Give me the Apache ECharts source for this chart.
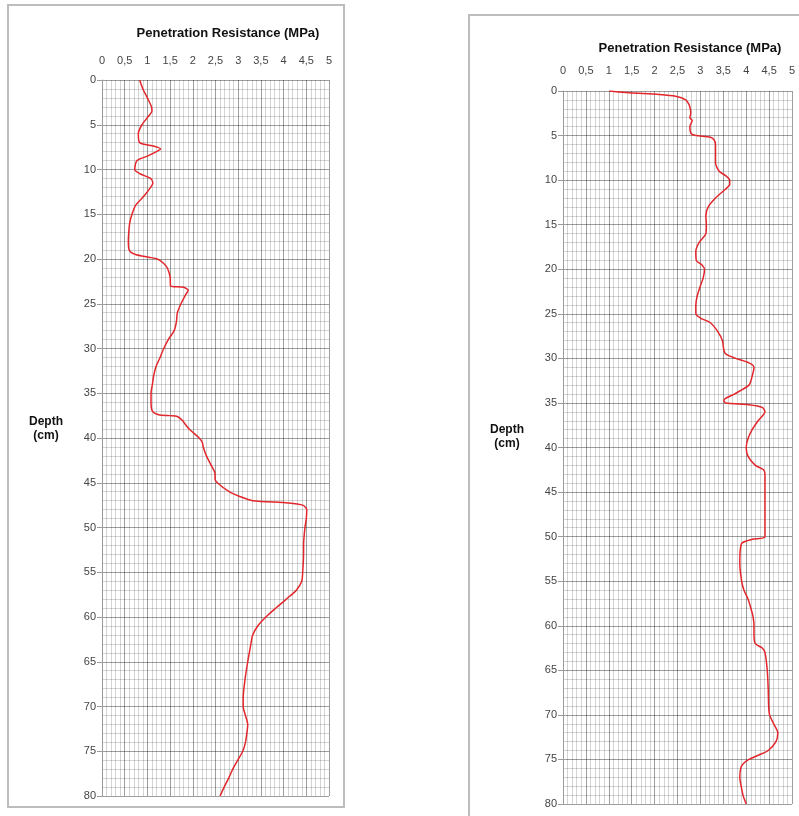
<!DOCTYPE html>
<html>
<head>
<meta charset="utf-8">
<script src="https://cdn.jsdelivr.net/npm/echarts@6/dist/echarts.min.js"></script>
<style>html,body{margin:0;padding:0;background:#fff}#c{width:799px;height:816px}</style>
</head>
<body>
<div id="c"></div>
<script>
// ---- data ----
const titleText = 'Penetration Resistance (MPa)';
const depthLabel = ['Depth', '(cm)'];

const leftDepth = [0,1,2,3,3.5,4,5,6,7,7.4,7.7,8,8.5,9,10,10.5,11,11.5,12,13,14,15,16,17,18,19,19.5,19.8,20,20.5,21,22,23,23.15,23.5,24,25,26,27,28,29,30,31,32,33,34,35,36,37,37.4,37.5,37.6,38,39,40,40.5,41,42,43,44,44.6,45,46,46.5,47,47.25,47.5,48,49,50,52,53,55,56,57,58,59,60,61,62,63,65,67,69,70,71,72,73,74,75,76,77,78,79,80];
const leftMPa   = [0.83,0.9,1.0,1.09,1.1,1.03,0.88,0.8,0.83,1.15,1.29,1.2,1.0,0.77,0.72,0.85,1.07,1.12,1.07,0.92,0.74,0.66,0.61,0.59,0.58,0.6,0.74,1.03,1.22,1.36,1.44,1.5,1.51,1.8,1.9,1.84,1.74,1.66,1.64,1.59,1.46,1.36,1.28,1.19,1.14,1.11,1.08,1.08,1.11,1.25,1.5,1.66,1.76,1.92,2.14,2.21,2.23,2.3,2.4,2.49,2.49,2.54,2.8,3.02,3.32,4.1,4.42,4.51,4.5,4.47,4.44,4.44,4.42,4.4,4.28,4.06,3.83,3.61,3.43,3.32,3.28,3.21,3.15,3.11,3.11,3.16,3.21,3.19,3.16,3.1,2.99,2.88,2.79,2.69,2.6];

const rightDepth = [0,0.2,0.4,0.6,1,1.5,2,2.5,3,3.3,4,4.8,5,5.2,5.5,6,7,8,9,9.5,10,10.5,11,12,13,14,15,16,17,18,19,19.5,20,21,22,23,24,25,25.5,26,27,28,29,29.5,30,30.5,31,32,33,34,34.7,35,35.2,35.5,36,37,38,39,40,41,42,42.5,43,45,48,50,50.3,50.7,51.5,53,55,56,57,58,59,60,61,62,62.5,63,65,67,69,70,71,72,73,74,74.5,75,75.5,76,77,78,79,80];
const rightMPa   = [1.01,1.45,2.1,2.46,2.68,2.75,2.78,2.79,2.77,2.82,2.77,2.8,2.9,3.22,3.3,3.33,3.33,3.33,3.41,3.55,3.64,3.64,3.55,3.33,3.17,3.12,3.13,3.12,2.97,2.9,2.91,3.03,3.09,3.06,2.99,2.93,2.9,2.9,3.01,3.22,3.38,3.48,3.51,3.55,3.77,4.06,4.17,4.13,4.06,3.74,3.51,3.55,4.06,4.35,4.41,4.26,4.13,4.04,4.0,4.04,4.2,4.38,4.41,4.41,4.41,4.41,4.13,3.91,3.87,3.86,3.9,3.95,4.04,4.1,4.15,4.17,4.17,4.2,4.35,4.41,4.46,4.48,4.49,4.51,4.6,4.69,4.65,4.48,4.28,4.06,3.93,3.88,3.86,3.89,3.93,4.0];

const xTicks = {min: 0, max: 5, step: 0.5};
const yTicks = {min: 0, max: 80, step: 5};

// ---- chart ----
const chart = echarts.init(document.getElementById('c'), null, {renderer: 'canvas'});
const FONT = '"Liberation Sans", Arial, sans-serif';
const majorColor = 'rgba(0,0,0,0.38)';
const minorColor = 'rgba(0,0,0,0.17)';

function xAxisCfg(gridIndex, margin) {
  return {
    type: 'value', gridIndex, position: 'top',
    min: xTicks.min, max: xTicks.max, interval: xTicks.step,
    axisLine: {show: false}, axisTick: {show: false},
    axisLabel: {margin, fontSize: 11, color: '#444', fontFamily: FONT,
      formatter: v => String(+v.toFixed(1)).replace('.', ',')},
    splitLine: {show: true, lineStyle: {color: majorColor, width: 1, type: 'solid'}},
    minorTick: {show: false, splitNumber: 5},
    minorSplitLine: {show: true, lineStyle: {color: minorColor, width: 1, type: 'solid'}}
  };
}
function yAxisCfg(gridIndex) {
  return {
    type: 'value', gridIndex, inverse: true,
    min: yTicks.min, max: yTicks.max, interval: yTicks.step,
    axisLine: {show: true, lineStyle: {color: '#9a9a9a', type: 'solid'}},
    axisTick: {show: true, length: 5, lineStyle: {color: '#9a9a9a'}},
    axisLabel: {margin: 6, fontSize: 11, color: '#444', fontFamily: FONT},
    splitLine: {show: true, lineStyle: {color: majorColor, width: 1, type: 'solid'}},
    minorTick: {show: false, splitNumber: 5},
    minorSplitLine: {show: true, lineStyle: {color: minorColor, width: 1, type: 'solid'}}
  };
}
function lineSeries(idx, xs, ds) {
  return {
    type: 'line', xAxisIndex: idx, yAxisIndex: idx,
    data: xs.map((v, i) => [v, ds[i]]),
    showSymbol: false, smooth: 0.25, silent: true,
    lineStyle: {color: '#e3262b', width: 1.5}
  };
}
function txt(x, y, text, size) {
  return {type: 'text', x, y, style: {text, font: 'bold ' + size + 'px ' + FONT, fill: '#111', textAlign: 'center', textVerticalAlign: 'middle'}};
}

chart.setOption({
  animation: false,
  grid: [
    {left: 102, top: 80, width: 227, height: 716},
    {left: 563, top: 91, width: 229, height: 713}
  ],
  xAxis: [xAxisCfg(0, 14), xAxisCfg(1, 15)],
  yAxis: [yAxisCfg(0), yAxisCfg(1)],
  series: [lineSeries(0, leftMPa, leftDepth), lineSeries(1, rightMPa, rightDepth)],
  graphic: [
    {type: 'rect', shape: {x: 8, y: 5, width: 336, height: 802}, style: {fill: 'none', stroke: '#bdbdbd', lineWidth: 2}, z: -1},
    {type: 'rect', shape: {x: 469, y: 15, width: 340, height: 820}, style: {fill: 'none', stroke: '#bdbdbd', lineWidth: 2}, z: -1},
    txt(228, 33, titleText, 13),
    txt(690, 48, titleText, 13),
    txt(46, 422, depthLabel[0], 12),
    txt(46, 436, depthLabel[1], 12),
    txt(507, 430, depthLabel[0], 12),
    txt(507, 444, depthLabel[1], 12)
  ]
});
</script>
</body>
</html>
